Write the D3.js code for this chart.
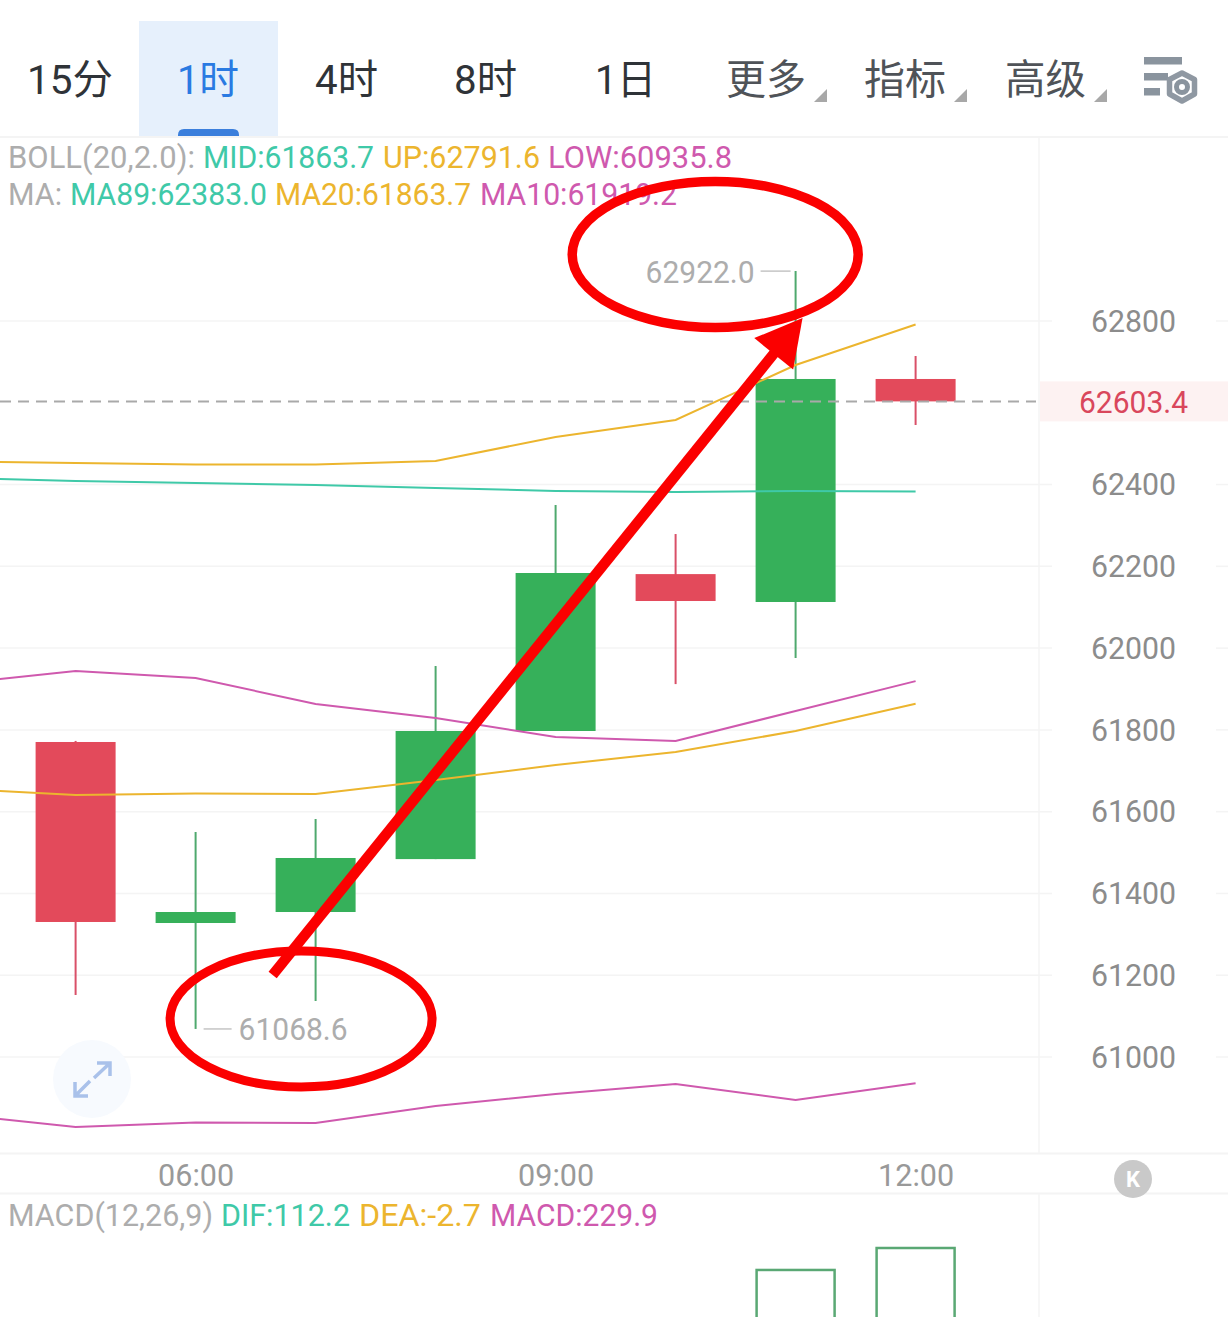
<!DOCTYPE html>
<html><head><meta charset="utf-8">
<style>html,body{margin:0;padding:0;background:#fff;overflow:hidden}svg{display:block}text{font-family:Roboto,"Noto Sans CJK SC",sans-serif}</style>
<script src="https://cdn.jsdelivr.net/npm/d3@7/dist/d3.min.js"></script>
</head><body><svg id="c" width="1228" height="1317"></svg>
<script>
// ---- data ----
const hours  = [5,6,7,8,9,10,11,12];
const opens  = [61770.4,61327.7,61354.6,61484.0,61797.3,62181.0,62112.8,62658.2];
const closes = [61330.2,61354.6,61486.7,61797.3,62183.7,62115.2,62658.2,62603.4];
const highs  = [61773.0,61550.3,61582.1,61956.2,62350.0,62279.0,62922.0,62714.4];
const lows   = [61151.6,61068.6,61137.0,61484.0,61797.3,61912.0,61975.8,62545.6];
const lineHours = [4,5,6,7,8,9,10,11,12];
const bollUp  = [62456.6,62452.7,62449.0,62449.0,62457.6,62516.3,62557.9,62692.4,62791.6];
const bollMid = [61656.2,61640.8,61644.4,61643.2,61677.4,61714.1,61745.9,61797.3,61863.7];
const ma89    = [62416.0,62408.7,62403.8,62399.0,62391.6,62384.2,62381.8,62384.2,62383.0];
const ma10    = [61913.2,61944.0,61926.9,61863.3,61829.1,61782.6,61772.8,61846.2,61919.2];
const bollLow = [60859.6,60828.8,60839.8,60838.6,60880.2,60909.5,60934.0,60894.8,60935.8];
const macdHours = [11,12];
const macdVals  = [204.9,229.9];
const yTicks = [62800,62400,62200,62000,61800,61600,61400,61200,61000];
const gridTicks = [62800,62400,62200,62000,61800,61600,61400,61200,61000];
const xTicks = [6,9,12];
const lastPrice = 62603.4, hiVal = 62922.0, loVal = 61068.6;
const tabs = ["15分","1时","4时","8时","1日","更多","指标","高级"];
const legend1 = ["BOLL(20,2.0):","MID:61863.7","UP:62791.6","LOW:60935.8"];
const legend2 = ["MA:","MA89:62383.0","MA20:61863.7","MA10:61919.2"];
const legend3 = ["MACD(12,26,9)","DIF:112.2","DEA:-2.7","MACD:229.9"];

// ---- layout ----
const tabX = [[27,113],[177,239],[315,378],[454,517],[595,656],[726,806],[864,946],[1005,1086]];
const leg1X = [[8,195],[203,374],[383,540],[548,732]];
const leg2X = [[8,62],[70,267],[275,471],[480,677]];
const leg3X = [[8,213],[221,350],[359,481],[490,658]];
const C = {teal:"#3fc9a8",yellow:"#ecb52e",pink:"#cf59ae",grey:"#adadad",up:"#36b05a",down:"#e34a5b",upWick:"#4fa96e",downWick:"#d95068",grid:"#f4f4f4",red:"#fb0000"};
const svg = d3.select("#c");
const x = d3.scaleLinear().domain([5,12]).range([75.6,915.6]);
const y = d3.scaleLinear().domain([61000,62800]).range([1057,321]);
const macdY = d3.scaleLinear().domain([0,229.9]).range([1450,1248]);
const fs = 31;

svg.append("defs").append("clipPath").attr("id","plot").append("rect")
  .attr("x",0).attr("y",138).attr("width",1039).attr("height",1015);
function label(g,t,x0,x1,yb,col,size){
  return g.append("text").attr("x",x0).attr("y",yb).attr("fill",col).attr("font-size",size||fs)
    .attr("textLength",x1-x0).attr("lengthAdjust","spacingAndGlyphs").text(t);
}

// header
svg.append("rect").attr("x",139).attr("y",21).attr("width",139).attr("height",115).attr("fill","#e6f0fc");
svg.append("path").attr("d","M178 136V135Q178 129 184 129H233Q239 129 239 135V136Z").attr("fill","#3b7fdc");
tabs.forEach((t,i)=>{
  label(svg,t,tabX[i][0],tabX[i][1],94,i===1?"#2a7ae2":i<5?"#2f3338":"#4f5358",41);
  if(i>=5){const e=tabX[i][1]+21;
    svg.append("path").attr("d",`M${e-13} 102L${e} 89V102Z`).attr("fill","#a8a8a8");}
});
const ic=svg.append("g").attr("fill","#8a949e");
ic.append("rect").attr("x",1144).attr("y",57).attr("width",38).attr("height",7.5);
ic.append("rect").attr("x",1144).attr("y",73).attr("width",24).attr("height",7.5);
ic.append("rect").attr("x",1144).attr("y",88).attr("width",16).attr("height",7.5);
svg.append("path").attr("d","M1182 73L1194.5 79.5V94L1182 101L1169.5 94V79.5Z").attr("fill","#fff").attr("stroke","#8f98a2").attr("stroke-width",5.5).attr("stroke-linejoin","round");
svg.append("circle").attr("cx",1182).attr("cy",87).attr("r",5.5).attr("fill","#fff").attr("stroke","#8a949e").attr("stroke-width",5);

// frame lines
[137,1153.5,1193.5].forEach(v=>svg.append("line").attr("x1",0).attr("x2",1228).attr("y1",v).attr("y2",v).attr("stroke",C.grid).attr("stroke-width",2));
svg.append("line").attr("x1",1039).attr("x2",1039).attr("y1",137).attr("y2",1153).attr("stroke",C.grid).attr("stroke-width",1.5);
svg.append("line").attr("x1",1039).attr("x2",1039).attr("y1",1194).attr("y2",1317).attr("stroke",C.grid).attr("stroke-width",1.5);

// grid
const grid=svg.append("g");
grid.selectAll("line.a").data(gridTicks).join("line").attr("class","a").attr("x1",0).attr("x2",1052)
  .attr("y1",d=>y(d)).attr("y2",d=>y(d)).attr("stroke",C.grid).attr("stroke-width",1.5);
grid.selectAll("line.b").data(gridTicks).join("line").attr("class","b").attr("x1",1216).attr("x2",1228)
  .attr("y1",d=>y(d)).attr("y2",d=>y(d)).attr("stroke",C.grid).attr("stroke-width",1.5);

// last price label background
svg.append("rect").attr("x",1040).attr("y",y(lastPrice)-20).attr("width",188).attr("height",40).attr("fill","#fdf2f2");

// axes
const yAxis=svg.append("g").attr("transform","translate(1091,0)")
  .call(d3.axisRight(y).tickValues(yTicks).tickSize(0).tickPadding(0).tickFormat(d3.format("d")));
yAxis.select(".domain").remove();
yAxis.selectAll("text").attr("font-size",fs).attr("fill","#8c8c8c").attr("dy","0.33em")
  .attr("textLength",85).attr("lengthAdjust","spacingAndGlyphs");
const xAxis=svg.append("g").attr("transform","translate(0,1153)")
  .call(d3.axisBottom(x).tickValues(xTicks).tickSize(0).tickPadding(0).tickFormat(d=>String(d).padStart(2,"0")+":00"));
xAxis.select(".domain").remove();
xAxis.selectAll("text").attr("font-size",fs).attr("fill","#999").attr("y",33)
  .attr("dy",0).attr("textLength",76).attr("lengthAdjust","spacingAndGlyphs");

// candles
const candleW = x(6)-x(5)-40;
const cg=svg.append("g").selectAll("g").data(hours).join("g");
const up=i=>closes[i]>=opens[i];
cg.append("line").attr("x1",d=>x(d)).attr("x2",d=>x(d))
  .attr("y1",(d,i)=>y(highs[i])).attr("y2",(d,i)=>y(lows[i]))
  .attr("stroke",(d,i)=>up(i)?C.upWick:C.downWick).attr("stroke-width",2);
cg.append("rect").attr("x",d=>x(d)-candleW/2).attr("width",candleW)
  .attr("y",(d,i)=>y(Math.max(opens[i],closes[i])))
  .attr("height",(d,i)=>Math.abs(y(opens[i])-y(closes[i])))
  .attr("fill",(d,i)=>up(i)?C.up:C.down);

// lines over the candles
const plot=svg.append("g").attr("clip-path","url(#plot)");
const line=d3.line().x((d,i)=>x(lineHours[i])).y(d=>y(d));
[[bollUp,C.yellow],[bollMid,C.yellow],[ma89,C.teal],[ma10,C.pink],[bollLow,C.pink]].forEach(([s,c])=>{
  plot.append("path").attr("d",line(s)).attr("fill","none").attr("stroke",c).attr("stroke-width",2);
});

// last price dashed
svg.append("line").attr("x1",0).attr("x2",1036).attr("y1",y(lastPrice)).attr("y2",y(lastPrice))
  .attr("stroke","#a9a9a9").attr("stroke-width",2).attr("stroke-dasharray","11 7");
label(svg,String(lastPrice),1079,1188,y(lastPrice)+12,"#d9475c",fs);

// extreme labels
const hiH=11, loH=6;
svg.append("line").attr("x1",x(hiH)-35).attr("x2",x(hiH)-5).attr("y1",y(hiVal)).attr("y2",y(hiVal)).attr("stroke","#c4c4c4").attr("stroke-width",1.5);
label(svg,hiVal.toFixed(1),x(hiH)-150,x(hiH)-41,y(hiVal)+12,C.grey,fs);
svg.append("line").attr("x1",x(loH)+8).attr("x2",x(loH)+36).attr("y1",y(loVal)).attr("y2",y(loVal)).attr("stroke","#c4c4c4").attr("stroke-width",1.5);
label(svg,loVal.toFixed(1),x(loH)+43,x(loH)+152,y(loVal)+11,C.grey,fs);

// legends
const cols=[C.grey,C.teal,C.yellow,C.pink];
legend1.forEach((t,i)=>label(svg,t,leg1X[i][0],leg1X[i][1],168,cols[i]));
legend2.forEach((t,i)=>label(svg,t,leg2X[i][0],leg2X[i][1],205,cols[i]));
legend3.forEach((t,i)=>label(svg,t,leg3X[i][0],leg3X[i][1],1226,cols[i]));

// MACD bars
svg.append("g").selectAll("rect").data(macdHours).join("rect")
  .attr("x",d=>x(d)-candleW/2+1).attr("width",candleW-2)
  .attr("y",(d,i)=>macdY(macdVals[i])).attr("height",(d,i)=>macdY(0)-macdY(macdVals[i]))
  .attr("fill","none").attr("stroke","#5aa874").attr("stroke-width",2.5);

// expand button
svg.append("circle").attr("cx",92).attr("cy",1079).attr("r",39).attr("fill","#f7fafe");
svg.append("path").attr("d","M97 1063H110V1076M110 1063L94 1078M75 1082V1096H88M75 1096L90 1081")
  .attr("fill","none").attr("stroke","#a9c1ea").attr("stroke-width",3.5);
// K button
svg.append("circle").attr("cx",1133).attr("cy",1179).attr("r",19).attr("fill","#c9c9c9");
svg.append("text").attr("x",1133).attr("y",1187).attr("text-anchor","middle").attr("fill","#fff").attr("font-size",22).attr("font-weight",700).text("K");

// red annotations, anchored to time and price
const anno=svg.append("g");
anno.append("ellipse").attr("cx",x(10.33)).attr("cy",y(62962.7)).attr("rx",143).attr("ry",73)
  .attr("fill","none").attr("stroke",C.red).attr("stroke-width",9.5);
anno.append("ellipse").attr("cx",x(6.879)).attr("cy",y(61093.0)).attr("rx",131).attr("ry",68)
  .attr("fill","none").attr("stroke",C.red).attr("stroke-width",9);
const ax0=x(6.642), ay0=y(61200.5), ax1=x(11.058), ay1=y(62807.3);
const len=Math.hypot(ax1-ax0,ay1-ay0), ux=(ax1-ax0)/len, uy=(ay1-ay0)/len;
const ang=Math.atan2(uy,ux)*180/Math.PI;
anno.append("line").attr("x1",ax0).attr("y1",ay0).attr("x2",ax1-ux*44).attr("y2",ay1-uy*44)
  .attr("stroke",C.red).attr("stroke-width",10.5);
anno.append("path").attr("d","M0 0L-46 -25L-46 25Z")
  .attr("transform",`translate(${ax1},${ay1}) rotate(${ang})`).attr("fill",C.red);
</script></body></html>
